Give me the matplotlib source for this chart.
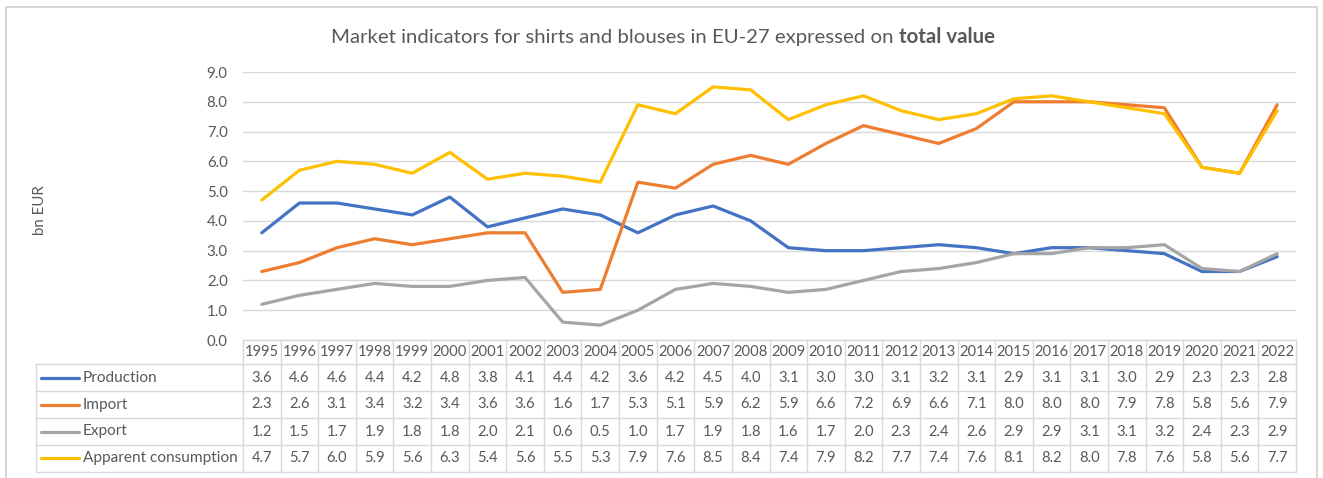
import matplotlib
matplotlib.use('Agg')
import matplotlib.pyplot as plt
import numpy as np
from matplotlib.patches import Rectangle

years = [str(y) for y in range(1995, 2023)]
production = [3.6, 4.6, 4.6, 4.4, 4.2, 4.8, 3.8, 4.1, 4.4, 4.2, 3.6, 4.2, 4.5, 4.0,
              3.1, 3.0, 3.0, 3.1, 3.2, 3.1, 2.9, 3.1, 3.1, 3.0, 2.9, 2.3, 2.3, 2.8]
imports = [2.3, 2.6, 3.1, 3.4, 3.2, 3.4, 3.6, 3.6, 1.6, 1.7, 5.3, 5.1, 5.9, 6.2,
           5.9, 6.6, 7.2, 6.9, 6.6, 7.1, 8.0, 8.0, 8.0, 7.9, 7.8, 5.8, 5.6, 7.9]
exports = [1.2, 1.5, 1.7, 1.9, 1.8, 1.8, 2.0, 2.1, 0.6, 0.5, 1.0, 1.7, 1.9, 1.8,
           1.6, 1.7, 2.0, 2.3, 2.4, 2.6, 2.9, 2.9, 3.1, 3.1, 3.2, 2.4, 2.3, 2.9]
consumption = [4.7, 5.7, 6.0, 5.9, 5.6, 6.3, 5.4, 5.6, 5.5, 5.3, 7.9, 7.6, 8.5, 8.4,
               7.4, 7.9, 8.2, 7.7, 7.4, 7.6, 8.1, 8.2, 8.0, 7.8, 7.6, 5.8, 5.6, 7.7]
series_names = ["Production", "Import", "Export", "Apparent consumption"]
series_values = [production, imports, exports, consumption]
colors = ["#4472C4", "#ED7D31", "#A5A5A5", "#FFC000"]

FONT = "Lato"
TXT = "#595959"
GRID = "#d9d9d9"
plt.rcParams['font.family'] = [FONT, 'DejaVu Sans']

W, H = 1323, 478
fig = plt.figure(figsize=(W / 100, H / 100), dpi=100)

def fx(px):
    return px / W

def fy(py):
    return 1 - py / H

# table geometry (pixels)
tab_left, col_left, tab_right = 36, 243, 1296
top_y0, top_y1 = 72, 340
row_lines = [339.5, 364.3, 391.0, 418.0, 445.0, 471.7]
n = len(years)
colw = (tab_right - col_left) / n

# main axes
ax = fig.add_axes([fx(col_left), fy(top_y1), (tab_right - col_left) / W, (top_y1 - top_y0) / H])
ax.set_xlim(-0.5, n - 0.5)
ax.set_ylim(0, 9)
x = np.arange(n)
for vals, c in zip(series_values, colors):
    ax.plot(x, vals, color=c, lw=2.3, solid_capstyle='round', solid_joinstyle='round', zorder=3)
ax.set_yticks(np.arange(0, 10, 1))
ax.set_yticklabels([f"{v:.1f}" for v in np.arange(0, 10, 1)], color=TXT, fontsize=10.8)
ax.tick_params(axis='y', length=0, pad=11)
ax.set_xticks([])
ax.yaxis.grid(True, color=GRID, lw=1)
ax.set_axisbelow(True)
for s in ax.spines.values():
    s.set_visible(False)
ax.patch.set_alpha(0)

# overlay for table, border, titles
ov = fig.add_axes([0, 0, 1, 1])
ov.set_xlim(0, W)
ov.set_ylim(H, 0)
ov.axis('off')
ov.patch.set_alpha(0)

ov.add_patch(Rectangle((5.5, 7.3), 1311, 480, fill=False, ec="#d0d0d0", lw=1.2, clip_on=False))

edges = [col_left + i * colw for i in range(n + 1)]
# vertical lines
for i, ex in enumerate(edges):
    ov.plot([ex, ex], [row_lines[0], row_lines[-1]], color=GRID, lw=1)
ov.plot([tab_left, tab_left], [row_lines[1], row_lines[-1]], color=GRID, lw=1)
# horizontal lines
ov.plot([col_left, tab_right], [row_lines[0], row_lines[0]], color=GRID, lw=1)
for ry in row_lines[1:]:
    ov.plot([tab_left, tab_right], [ry, ry], color=GRID, lw=1)

fs = 10.6
for i, yr in enumerate(years):
    cx = (edges[i] + edges[i + 1]) / 2
    ov.text(cx, (row_lines[0] + row_lines[1]) / 2, yr, ha='center', va='center', color=TXT, fontsize=fs)
for r, (name, vals, c) in enumerate(zip(series_names, series_values, colors)):
    cy = (row_lines[r + 1] + row_lines[r + 2]) / 2
    ov.plot([41, 79], [cy, cy], color=c, lw=2.3, solid_capstyle='round')
    ov.text(83, cy, name, ha='left', va='center', color=TXT, fontsize=11.1)
    for i, v in enumerate(vals):
        cx = (edges[i] + edges[i + 1]) / 2
        ov.text(cx, cy, f"{v:.1f}", ha='center', va='center', color=TXT, fontsize=fs)

# y label
ov.text(40, 210, "bn EUR", rotation=90, ha='center', va='center', color=TXT, fontsize=10.8)

# title with bold part
t1 = ov.text(0, 37, "Market indicators for shirts and blouses in EU-27 expressed on ", ha='left',
             va='center', color=TXT, fontsize=14.7)
t2 = ov.text(0, 37, "total value", ha='left', va='center', color=TXT, fontsize=14.7, fontweight='bold')
fig.canvas.draw()
r = fig.canvas.get_renderer()
w1 = t1.get_window_extent(r).width
w2 = t2.get_window_extent(r).width
start = 663 - (w1 + w2) / 2
t1.set_x(start)
t2.set_x(start + w1)

fig.savefig("out.png", dpi=100)
